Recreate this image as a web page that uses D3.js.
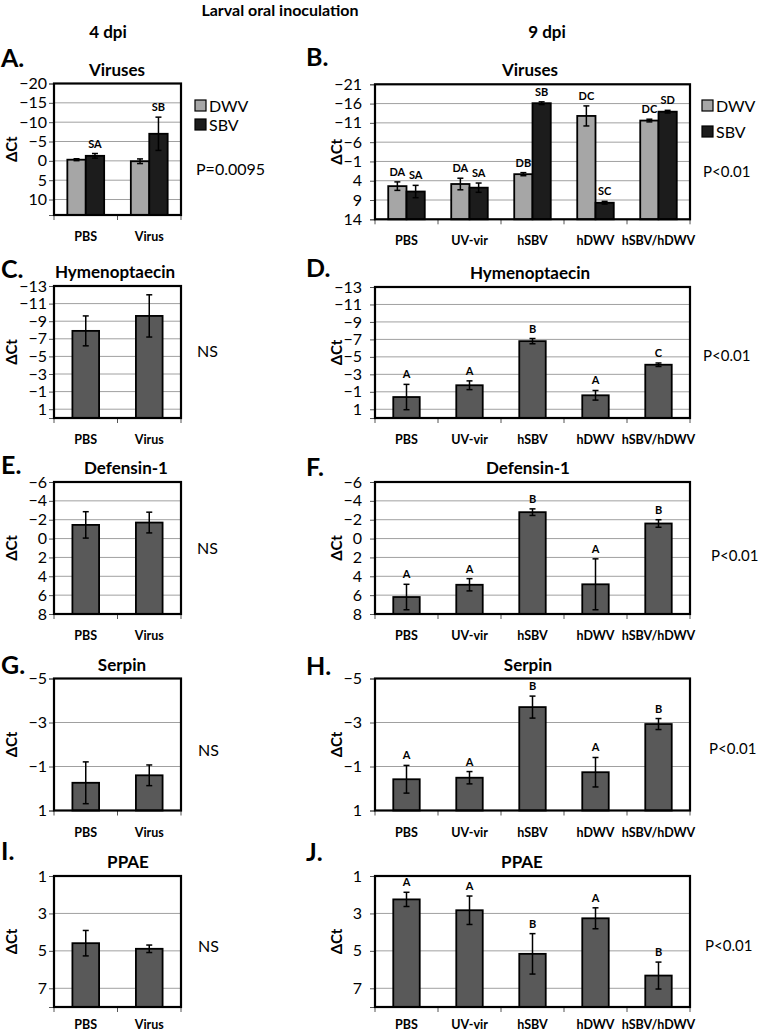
<!DOCTYPE html>
<html>
<head>
<meta charset="utf-8">
<script src="https://cdn.jsdelivr.net/npm/d3@7"></script>
<style>
  html, body { margin: 0; padding: 0; background: #fff; }
  svg { display: block; }
  text { font-family: Lato, "Open Sans", sans-serif; fill: #000; }
</style>
</head>
<body>
<script>
// ---------------- DATA ----------------
const cats4 = ["PBS", "Virus"];
const cats9 = ["PBS", "UV-vir", "hSBV", "hDWV", "hSBV/hDWV"];
const seriesNames = ["DWV", "SBV"];

// A. Viruses, 4 dpi
const aDomain = [-20, 14];
const aTicks = [-20, -15, -10, -5, 0, 5, 10];
const aDWV = [-0.3, 0.1];
const aDWVErr = [0.25, 0.6];
const aSBV = [-1.3, -7.0];
const aSBVErr = [0.6, 4.3];
const aDWVLetters = ["", ""];
const aSBVLetters = ["SA", "SB"];

// B. Viruses, 9 dpi
const bDomain = [-21, 14];
const bTicks = [-21, -16, -11, -6, -1, 4, 9, 14];
const bDWV = [5.4, 4.85, 2.3, -12.8, -11.6];
const bDWVErr = [1.1, 1.5, 0.4, 2.6, 0.35];
const bSBV = [6.8, 5.8, -16.1, 9.7, -13.9];
const bSBVErr = [1.6, 1.2, 0.35, 0.35, 0.35];
const bDWVLetters = ["DA", "DA", "DB", "DC", "DC"];
const bSBVLetters = ["SA", "SA", "SB", "SC", "SD"];

// C / D. Hymenoptaecin
const hymDomain = [-13, 2];
const hymTicks = [-13, -11, -9, -7, -5, -3, -1, 1];
const cVals = [-7.9, -9.6];
const cErr = [1.7, 2.4];
const dVals = [-0.4, -1.75, -6.8, -0.6, -4.1];
const dErr = [1.45, 0.5, 0.3, 0.55, 0.2];
const dLetters = ["A", "A", "B", "A", "C"];

// E / F. Defensin-1
const defDomain = [-6, 8];
const defTicks = [-6, -4, -2, 0, 2, 4, 6, 8];
const eVals = [-1.45, -1.7];
const eErr = [1.4, 1.1];
const fVals = [6.2, 4.9, -2.8, 4.85, -1.6];
const fErr = [1.35, 0.65, 0.35, 2.7, 0.4];
const fLetters = ["A", "A", "B", "A", "B"];

// G / H. Serpin
const serDomain = [-5, 1];
const serTicks = [-5, -3, -1, 1];
const gVals = [-0.26, -0.6];
const gErr = [0.95, 0.47];
const hVals = [-0.42, -0.49, -3.7, -0.74, -2.93];
const hErr = [0.63, 0.28, 0.5, 0.67, 0.25];
const hLetters = ["A", "A", "B", "A", "B"];

// I / J. PPAE
const ppaeDomain = [1, 8];
const ppaeTicks = [1, 3, 5, 7];
const iVals = [4.59, 4.89];
const iErr = [0.68, 0.2];
const jVals = [2.25, 2.83, 5.16, 3.26, 6.32];
const jErr = [0.38, 0.76, 1.08, 0.56, 0.72];
const jLetters = ["A", "A", "B", "A", "B"];

// ---------------- DRAWING ----------------
const W = 762, H = 1032;
const svg = d3.select("body").append("svg").attr("width", W).attr("height", H);

const COL_SINGLE = "#595959", COL_DWV = "#a6a6a6", COL_SBV = "#1c1c1c";

function panel(o) {
  const g = svg.append("g");
  const x = d3.scaleBand().domain(o.cats).range([o.x0, o.x1]);
  const y = d3.scaleLinear().domain(o.domain).range([o.y0, o.y1]); // reversed: min at top
  const bw = x.bandwidth();

  // gridlines
  g.append("g").selectAll("line").data(o.ticks).join("line")
    .attr("x1", o.x0).attr("x2", o.x1)
    .attr("y1", d => y(d)).attr("y2", d => y(d))
    .attr("stroke", "#a0a0a0").attr("stroke-width", 1);

  // y axis
  const yAx = g.append("g").attr("transform", `translate(${o.x0},0)`)
    .call(d3.axisLeft(y).tickValues(o.ticks).tickSize(5).tickPadding(o.tickPad).tickFormat(d3.format("d")));
  yAx.select(".domain").attr("stroke", "#555");
  yAx.selectAll(".tick line").attr("stroke", "#555");
  yAx.selectAll("text").style("font-size", "16px").style("font-family", "Lato, sans-serif");

  // x axis ticks at band boundaries
  const bounds = o.cats.map(c => x(c)).concat([o.x1]);
  g.append("g").selectAll("line").data(bounds).join("line")
    .attr("x1", d => d).attr("x2", d => d)
    .attr("y1", o.y1).attr("y2", o.y1 + 5)
    .attr("stroke", "#555").attr("stroke-width", 1);
  g.append("g").selectAll("text").data(o.cats).join("text")
    .attr("x", d => x(d) + bw / 2).attr("y", o.y1 + o.catOff)
    .attr("text-anchor", "middle").style("font-size", "12.5px").style("font-weight", "bold")
    .text(d => d);

  // bars
  const nS = o.series.length;
  const barW = nS === 1 ? bw * 0.42 : bw * 0.29;
  const groupW = barW * nS;
  o.series.forEach((s, si) => {
    const bx = (i) => x(o.cats[i]) + bw / 2 - groupW / 2 + si * barW;
    const sg = g.append("g");
    sg.selectAll("rect").data(s.vals).join("rect")
      .attr("x", (d, i) => bx(i))
      .attr("width", barW)
      .attr("y", d => y(d))
      .attr("height", d => o.y1 - y(d))
      .attr("fill", s.fill).attr("stroke", "#000").attr("stroke-width", 1.8);
    // error bars
    s.vals.forEach((v, i) => {
      const cx = bx(i) + barW / 2;
      const e = s.errs[i];
      const t = y(v - e), b = y(v + e);
      sg.append("line").attr("x1", cx).attr("x2", cx).attr("y1", t).attr("y2", b)
        .attr("stroke", "#000").attr("stroke-width", 1.5);
      [t, b].forEach(yy => sg.append("line").attr("x1", cx - 3).attr("x2", cx + 3)
        .attr("y1", yy).attr("y2", yy).attr("stroke", "#000").attr("stroke-width", 1.5));
      if (s.letters && s.letters[i]) {
        sg.append("text").attr("x", cx).attr("y", t - 6)
          .attr("text-anchor", "middle").style("font-size", "11px").style("font-weight", "bold")
          .text(s.letters[i]);
      }
    });
  });

  // frame
  g.append("rect").attr("x", o.x0).attr("y", o.y0)
    .attr("width", o.x1 - o.x0).attr("height", o.y1 - o.y0)
    .attr("fill", "none").attr("stroke", "#000").attr("stroke-width", 2.2);

  // title
  g.append("text").attr("x", o.titleX).attr("y", o.y0 - 8)
    .attr("text-anchor", "middle").style("font-size", "17px").style("font-weight", "bold")
    .text(o.title);
  // panel letter
  g.append("text").attr("x", o.letterX).attr("y", o.letterY)
    .style("font-size", "25px").style("font-weight", "bold").text(o.letter);
  // y label
  g.append("text")
    .attr("transform", `translate(${o.yLabX},${(o.y0 + o.y1) / 2}) rotate(-90)`)
    .attr("text-anchor", "middle").style("font-size", "15px").style("font-weight", "bold")
    .text("ΔCt");
  // note
  g.append("text").attr("x", o.noteX).attr("y", o.noteY)
    .style("font-size", o.noteSize).text(o.note);
  // legend
  if (o.legend) {
    o.series.forEach((s, si) => {
      const ly = o.legendY[si];
      g.append("rect").attr("x", o.legendX).attr("y", ly - 6).attr("width", 11).attr("height", 11)
        .attr("fill", s.fill).attr("stroke", "#000").attr("stroke-width", 1.2);
      g.append("text").attr("x", o.legendX + 14).attr("y", ly + 5.5)
        .style("font-size", "16px").text(seriesNames[si]);
    });
  }
}

// header texts
svg.append("text").attr("x", 280).attr("y", 16).attr("text-anchor", "middle")
  .style("font-size", "16px").style("font-weight", "bold").text("Larval oral inoculation");
svg.append("text").attr("x", 108).attr("y", 38).attr("text-anchor", "middle")
  .style("font-size", "17px").style("font-weight", "bold").text("4 dpi");
svg.append("text").attr("x", 547).attr("y", 38).attr("text-anchor", "middle")
  .style("font-size", "17px").style("font-weight", "bold").text("9 dpi");

const L = { x0: 54, x1: 181, tickPad: 2, yLabX: 17, letterX: 1, catOff: 26 };
const R = { x0: 375, x1: 690, tickPad: 8, yLabX: 342, letterX: 306, catOff: 26 };

panel(Object.assign({}, L, {
  y0: 83.5, y1: 215, domain: aDomain, ticks: aTicks, cats: cats4,
  series: [{ vals: aDWV, errs: aDWVErr, letters: aDWVLetters, fill: COL_DWV },
           { vals: aSBV, errs: aSBVErr, letters: aSBVLetters, fill: COL_SBV }],
  title: "Viruses", titleX: 117, letter: "A.", letterY: 67,
  note: "P=0.0095", noteX: 196, noteY: 175, noteSize: "16px",
  legend: true, legendX: 195, legendY: [106, 125]
}));
panel(Object.assign({}, R, {
  y0: 84.3, y1: 219.3, domain: bDomain, ticks: bTicks, cats: cats9,
  series: [{ vals: bDWV, errs: bDWVErr, letters: bDWVLetters, fill: COL_DWV },
           { vals: bSBV, errs: bSBVErr, letters: bSBVLetters, fill: COL_SBV }],
  title: "Viruses", titleX: 530, letter: "B.", letterY: 66,
  note: "P<0.01", noteX: 703, noteY: 177, noteSize: "15px",
  legend: true, legendX: 702, legendY: [106, 132]
}));
panel(Object.assign({}, L, {
  y0: 286, y1: 418, domain: hymDomain, ticks: hymTicks, cats: cats4,
  series: [{ vals: cVals, errs: cErr, fill: COL_SINGLE }],
  title: "Hymenoptaecin", titleX: 115, letter: "C.", letterY: 278,
  note: "NS", noteX: 197, noteY: 357, noteSize: "16px"
}));
panel(Object.assign({}, R, {
  y0: 287, y1: 418, domain: hymDomain, ticks: hymTicks, cats: cats9,
  series: [{ vals: dVals, errs: dErr, letters: dLetters, fill: COL_SINGLE }],
  title: "Hymenoptaecin", titleX: 530, letter: "D.", letterY: 277,
  note: "P<0.01", noteX: 703, noteY: 361, noteSize: "15px"
}));
panel(Object.assign({}, L, {
  y0: 482, y1: 614, domain: defDomain, ticks: defTicks, cats: cats4,
  series: [{ vals: eVals, errs: eErr, fill: COL_SINGLE }],
  title: "Defensin-1", titleX: 126, letter: "E.", letterY: 474,
  note: "NS", noteX: 197, noteY: 554, noteSize: "16px"
}));
panel(Object.assign({}, R, {
  y0: 482, y1: 614, domain: defDomain, ticks: defTicks, cats: cats9,
  series: [{ vals: fVals, errs: fErr, letters: fLetters, fill: COL_SINGLE }],
  title: "Defensin-1", titleX: 528, letter: "F.", letterY: 476,
  note: "P<0.01", noteX: 711, noteY: 561, noteSize: "15px"
}));
panel(Object.assign({}, L, {
  y0: 678.5, y1: 810.5, domain: serDomain, ticks: serTicks, cats: cats4,
  series: [{ vals: gVals, errs: gErr, fill: COL_SINGLE }],
  title: "Serpin", titleX: 122, letter: "G.", letterY: 674,
  note: "NS", noteX: 198, noteY: 756, noteSize: "16px"
}));
panel(Object.assign({}, R, {
  y0: 678.5, y1: 810.5, domain: serDomain, ticks: serTicks, cats: cats9,
  series: [{ vals: hVals, errs: hErr, letters: hLetters, fill: COL_SINGLE }],
  title: "Serpin", titleX: 528, letter: "H.", letterY: 675,
  note: "P<0.01", noteX: 709, noteY: 754, noteSize: "15px"
}));
panel(Object.assign({}, L, {
  y0: 876, y1: 1007, domain: ppaeDomain, ticks: ppaeTicks, cats: cats4, catOff: 22,
  series: [{ vals: iVals, errs: iErr, fill: COL_SINGLE }],
  title: "PPAE", titleX: 128, letter: "I.", letterY: 860,
  note: "NS", noteX: 198, noteY: 952, noteSize: "16px"
}));
panel(Object.assign({}, R, {
  y0: 876, y1: 1007, domain: ppaeDomain, ticks: ppaeTicks, cats: cats9, catOff: 22,
  series: [{ vals: jVals, errs: jErr, letters: jLetters, fill: COL_SINGLE }],
  title: "PPAE", titleX: 522, letter: "J.", letterY: 861,
  note: "P<0.01", noteX: 705, noteY: 951, noteSize: "15px"
}));
</script>
</body>
</html>
